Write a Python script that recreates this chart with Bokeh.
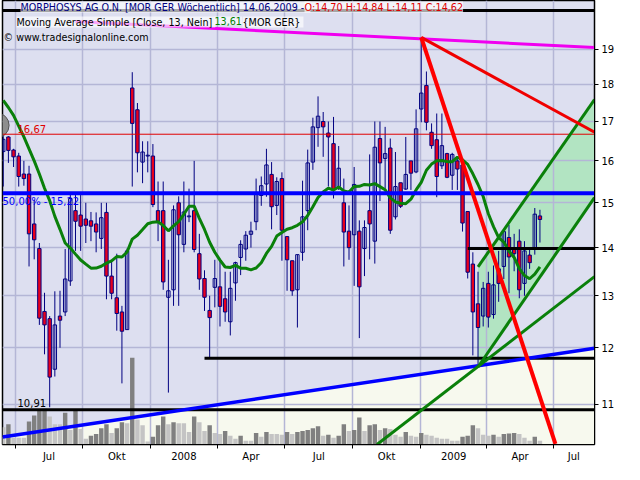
import datetime as dt
from bokeh.plotting import figure
from bokeh.models import Range1d, FixedTicker, LinearScale, Label, PrintfTickFormatter
from bokeh.embed import file_html
from bokeh.resources import INLINE

# ---------------- data (weekly bars) ----------------
first_week = "2007-06-15"
opens = [16.23, 16.60, 16.27, 16.12, 15.68, 15.68, 14.52, 13.98, 12.69, 12.55,
         11.61, 12.60, 12.68, 13.30, 14.82, 14.72, 14.63, 14.59, 14.52, 14.20,
         14.78, 13.40, 12.96, 12.68, 12.34, 17.90, 17.31, 15.97, 16.12, 16.12,
         14.82, 14.82, 12.97, 13.12, 15.00, 14.07, 14.68, 14.82, 13.87, 13.35,
         12.71, 13.17, 13.18, 12.94, 12.49, 13.26, 13.79, 13.97, 14.29, 14.57,
         15.17, 15.44, 15.67, 14.94, 15.57, 14.24, 13.72, 13.12, 13.90, 14.82,
         15.97, 16.84, 17.00, 16.70, 16.43, 15.38, 15.00, 14.36, 14.28, 14.36,
         13.98, 14.82, 14.14, 16.56, 16.06, 16.32, 14.68, 15.47, 15.32, 16.00,
         15.73, 17.33, 17.97, 16.72, 16.53, 15.88, 16.18, 15.65, 16.00, 15.90,
         14.80, 13.65, 12.84, 12.60, 13.25, 12.63, 13.55, 13.60, 14.22, 13.97,
         14.14, 13.25, 13.84, 13.98, 14.70]
highs = [16.62, 16.62, 16.30, 16.20, 16.00, 15.88, 15.07, 14.10, 13.06, 12.60,
         13.09, 13.10, 13.97, 15.20, 15.18, 15.18, 15.00, 14.79, 14.78, 15.00,
         15.00, 13.72, 13.87, 12.80, 13.98, 18.34, 17.49, 16.49, 16.49, 16.42,
         15.50, 15.50, 13.74, 14.94, 15.15, 15.50, 15.33, 16.00, 14.30, 13.52,
         13.00, 13.74, 13.72, 13.49, 13.49, 13.70, 14.16, 14.36, 14.57, 15.57,
         15.62, 16.30, 15.97, 15.60, 15.72, 14.24, 13.72, 13.85, 15.52, 16.28,
         17.10, 17.67, 17.25, 17.00, 17.12, 16.37, 15.57, 14.94, 15.85, 14.60,
         14.60, 16.16, 17.00, 17.00, 16.86, 16.56, 16.22, 15.47, 16.60, 16.00,
         17.32, 19.35, 18.36, 16.95, 17.21, 17.21, 16.20, 16.20, 16.10, 15.90,
         14.80, 13.90, 13.49, 13.28, 13.49, 13.62, 13.93, 14.40, 14.50, 14.30,
         14.40, 14.14, 13.98, 14.88, 14.84]
lows = [15.38, 15.95, 15.85, 15.38, 15.40, 13.60, 13.75, 12.43, 11.88, 10.95,
        11.48, 12.00, 12.60, 13.20, 13.93, 13.93, 14.10, 14.14, 13.90, 13.97,
        12.93, 12.93, 12.32, 11.36, 12.34, 15.38, 15.72, 15.46, 15.72, 14.90,
        14.14, 13.12, 11.20, 12.80, 12.80, 13.90, 14.56, 13.90, 13.12, 12.70,
        11.80, 12.77, 12.40, 12.49, 12.23, 12.90, 13.42, 13.72, 14.00, 14.38,
        14.93, 15.14, 14.40, 14.72, 13.72, 13.10, 13.00, 12.38, 13.72, 14.38,
        15.78, 16.35, 16.10, 15.38, 15.10, 15.30, 13.60, 13.74, 13.20, 12.18,
        13.40, 13.75, 13.66, 15.04, 15.33, 14.30, 14.62, 14.88, 15.30, 15.30,
        15.70, 16.98, 16.77, 16.30, 15.13, 15.80, 15.58, 15.30, 15.30, 14.35,
        13.35, 11.86, 11.70, 12.40, 12.38, 12.55, 12.88, 13.34, 13.05, 13.50,
        12.95, 13.00, 13.55, 13.85, 14.11]
closes = [16.54, 16.26, 16.10, 15.62, 15.57, 14.30, 14.17, 12.56, 12.43, 11.47,
          12.43, 12.52, 13.34, 15.10, 14.58, 14.47, 14.49, 14.47, 14.34, 14.66,
          13.40, 13.05, 12.65, 12.31, 13.93, 16.95, 16.20, 16.22, 16.14, 14.96,
          14.58, 13.28, 13.10, 14.84, 14.28, 14.79, 14.70, 13.96, 13.34, 12.97,
          12.57, 13.35, 12.79, 12.68, 13.15, 13.68, 14.07, 14.27, 14.36, 15.20,
          15.40, 15.90, 14.91, 15.50, 14.38, 13.74, 13.10, 13.85, 14.68, 15.95,
          16.86, 17.14, 16.86, 16.60, 15.30, 15.82, 14.34, 14.00, 15.43, 13.18,
          14.44, 14.52, 16.34, 15.95, 16.18, 14.38, 15.38, 14.92, 15.67, 15.70,
          16.81, 17.76, 16.98, 16.38, 15.62, 16.38, 15.60, 16.16, 15.80, 14.54,
          13.48, 12.68, 12.38, 13.15, 12.58, 13.22, 13.25, 14.35, 13.80, 13.87,
          13.12, 13.93, 13.68, 14.74, 14.62]
volumes = [450, 525, 175, 175, 175, 600, 750, 900, 925, 725,
           525, 525, 825, 375, 900, 400, 150, 225, 275, 425,
           525, 300, 425, 575, 550, 2250, 650, 500, 75, 200,
           500, 725, 525, 575, 550, 550, 325, 725, 575, 350,
           500, 300, 275, 350, 225, 150, 225, 100, 100, 300,
           200, 325, 275, 275, 250, 325, 275, 325, 350, 375,
           425, 475, 225, 250, 175, 225, 525, 350, 375, 700,
           350, 500, 525, 375, 425, 400, 250, 200, 325, 225,
           200, 300, 250, 225, 175, 150, 150, 100, 100, 200,
           225, 500, 425, 250, 225, 250, 200, 275, 288, 300,
           275, 175, 100, 200, 100]
ma_head = [17.56, 17.37, 17.16, 16.88, 16.60, 16.30, 16.00, 15.68, 15.34, 15.05,
           14.69, 14.40]
ma_period = 13

quarter_starts = ["2007-07-01", "2007-10-01", "2008-01-01", "2008-04-01", "2008-07-01",
                  "2008-10-01", "2009-01-01", "2009-04-01", "2009-07-01"]
quarter_labels = ["Jul", "Okt", "2008", "Apr", "Jul", "Okt", "2009", "Apr", "Jul"]
price_ticks = [11, 12, 13, 14, 15, 16, 17, 18, 19]

view_dates = ["2007-06-14", "2009-08-25"]
view_prices = [10.34, 20.48]

# drawn levels / trend lines (date, price anchors)
level_fib50 = 15.22
level_red = 16.67
level_low = 10.91
level_top = 20.17
level_support1 = 11.81
support1_from = "2008-03-14"
level_support2 = 13.98
support2_from = "2009-03-06"
support_line = (["2007-06-14", "2009-08-25"], [10.46, 11.99])
red_steep = (["2009-01-02", "2009-07-03"], [19.35, 10.35])
red_flat = (["2009-01-02", "2009-08-25"], [19.35, 16.72])
magenta_line = (["2007-09-21", "2009-08-25"], [19.83, 19.05])
green_long = (["2008-11-03", "2009-08-25"], [10.34, 13.39])
channel_upper = (["2009-03-20", "2009-08-25"], [13.59, 17.58])
channel_lower = (["2009-03-20", "2009-08-25"], [11.65, 15.12])
handle_point = ("2007-06-06", 16.9)

# ---------------- helpers ----------------
D0 = dt.date.fromisoformat(first_week)
def day(s):
    return (dt.date.fromisoformat(s) - D0).days

n = len(closes)
x = [7 * i for i in range(n)]
x0, x1 = day(view_dates[0]), day(view_dates[1])
ylo, yhi = view_prices

ma = list(ma_head) + [sum(closes[i - ma_period + 1:i + 1]) / ma_period
                      for i in range(len(ma_head), n)]

up = [i for i in range(n) if closes[i] >= opens[i]]
dn = [i for i in range(n) if closes[i] < opens[i]]
vol_dark = [i for i in range(n) if i > 0 and volumes[i] > volumes[i - 1]]
vol_light = [i for i in range(n) if i not in vol_dark]

NAVY = "#000080"
FONT = "DejaVu Sans"

p = figure(width=624, height=464, output_backend="svg", toolbar_location=None,
           x_range=Range1d(x0, x1), y_range=Range1d(ylo, yhi),
           y_axis_type="log", y_axis_location="right",
           background_fill_color="#DDDFF0", border_fill_color="white",
           min_border_left=2, min_border_right=30, min_border_top=0, min_border_bottom=0)
p.outline_line_color = "black"
p.outline_line_width = 1.5

# axes
qx = [day(q) for q in quarter_starts]
mids = []
for i in range(len(qx)):
    b = qx[i + 1] if i + 1 < len(qx) else x1
    mids.append((qx[i] + b) // 2)
p.xaxis.ticker = FixedTicker(ticks=mids, minor_ticks=qx)
p.xaxis.major_label_overrides = {m: lab for m, lab in zip(mids, quarter_labels)}
p.xaxis.major_tick_line_color = None
p.xaxis.major_tick_out = 0
p.xaxis.major_tick_in = 0
p.xaxis.minor_tick_in = 0
p.xaxis.minor_tick_out = 4
p.xaxis.minor_tick_line_color = "black"
p.xaxis.major_label_standoff = 2
p.yaxis.ticker = FixedTicker(ticks=price_ticks, minor_ticks=[])
p.yaxis.formatter = PrintfTickFormatter(format="%d")
p.yaxis.major_tick_in = 0
p.yaxis.major_tick_out = 4
p.yaxis.major_label_standoff = 3
for ax in (p.xaxis, p.yaxis):
    ax.axis_line_color = "black"
    ax.major_label_text_font = FONT
    ax.major_label_text_font_size = "10px"
    ax.major_label_text_color = "black"
p.xgrid.ticker = FixedTicker(ticks=qx)
p.ygrid.ticker = FixedTicker(ticks=price_ticks)
for g in (p.xgrid, p.ygrid):
    g.grid_line_color = "#B4B6D6"
    g.grid_line_width = 1.5

# background fills (under grid)
sx = [day(d) for d in support_line[0]]
p.patch([sx[0], sx[1], sx[1], sx[0]], [support_line[1][0], support_line[1][1], 9, 9],
        fill_color="#F7F9EE", line_color=None, level="image")
ux = [day(d) for d in channel_upper[0]]
lx = [day(d) for d in channel_lower[0]]
p.patch([ux[0], ux[1], lx[1], lx[0]],
        [channel_upper[1][0], channel_upper[1][1], channel_lower[1][1], channel_lower[1][0]],
        fill_color="#B2E4C2", line_color=None, level="image")

# volume
p.extra_y_ranges = {"vol": Range1d(0, 11525)}
p.extra_y_scales = {"vol": LinearScale()}
p.vbar(x=[x[i] for i in vol_light], top=[volumes[i] for i in vol_light], bottom=0, width=6,
       y_range_name="vol", fill_color="#C4C4C4", line_color=None)
p.vbar(x=[x[i] for i in vol_dark], top=[volumes[i] for i in vol_dark], bottom=0, width=6,
       y_range_name="vol", fill_color="#808080", line_color=None)

# candles
p.segment(x0=x, y0=lows, x1=x, y1=highs, line_color=NAVY, line_width=1)
p.vbar(x=[x[i] for i in up], bottom=[opens[i] for i in up], top=[closes[i] for i in up],
       width=4.6, fill_color=None, line_color=NAVY, line_width=1)
p.vbar(x=[x[i] for i in dn], bottom=[closes[i] for i in dn], top=[opens[i] for i in dn],
       width=4.6, fill_color="#E8001C", line_color=NAVY, line_width=1)

# moving average
p.line(x, ma, line_color="#0A800A", line_width=3)

# handle marker at left edge
p.scatter([day(handle_point[0])], [handle_point[1]], size=25, fill_color="#8E8E8E",
          line_color="#555555")

# horizontal levels
def hline(price, start, color, w):
    p.segment(x0=[start], y0=[price], x1=[x1], y1=[price], line_color=color, line_width=w)

hline(level_red, x0, "#E00000", 1)
hline(level_fib50, x0, "#0000FF", 4)
hline(level_low, x0, "black", 3)
hline(level_top, x0, "black", 3)
hline(level_support1, day(support1_from), "black", 3)
hline(level_support2, day(support2_from), "black", 3)

# trend lines
def tline(tl, color, w):
    p.line([day(d) for d in tl[0]], tl[1], line_color=color, line_width=w)

tline(support_line, "#0000FF", 3.5)
tline(magenta_line, "#F000F0", 3)
tline(green_long, "#0A800A", 3)
tline(channel_upper, "#0A800A", 3)
tline(channel_lower, "#0A800A", 3)
tline(red_flat, "#F00000", 3)
tline(red_steep, "#FF0000", 4)

# level labels
p.add_layout(Label(x=x0, y=level_red, x_offset=15, y_offset=1, text="16,67",
                   text_color="#E00000", text_font=FONT, text_font_size="10px",
                   text_baseline="bottom"))
p.add_layout(Label(x=x0, y=level_fib50, x_offset=0, y_offset=-3, text="50,00% - 15,22",
                   text_color="#0000FF", text_font=FONT, text_font_size="10px",
                   text_baseline="top"))
p.add_layout(Label(x=x0, y=level_low, x_offset=15, y_offset=3, text="10,91",
                   text_color="black", text_font=FONT, text_font_size="10px",
                   text_baseline="bottom"))

# header texts
HS = "9.6px"
def hdr(text, xo, yo, color, bg=True):
    lab = Label(x=x0, y=yhi, x_offset=xo, y_offset=yo, text=text, text_color=color,
                text_font=FONT, text_font_size=HS, text_baseline="top")
    if bg:
        lab.background_fill_color = "white"
        lab.background_fill_alpha = 0.65
    p.add_layout(lab)

hdr("MORPHOSYS AG O.N. [MOR GER  Wöchentlich] 14.06.2009 - ", 18, -1, NAVY)
hdr("O:14,70 H:14,84 L:14,11 C:14,62", 302, -1, "#E00000")
hdr("Moving Average Simple [Close, 13, Nein] ", 14, -16, "black")
hdr("13,61", 212, -16, "#008000")
hdr(" {MOR GER}", 240, -16, "black")
hdr("© www.tradesignalonline.com", 1, -31, "black", bg=False)

open("out.html", "w").write(file_html(p, INLINE))
